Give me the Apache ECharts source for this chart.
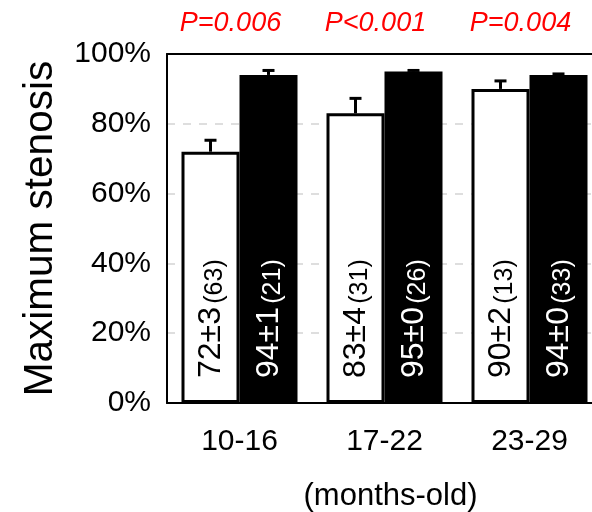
<!DOCTYPE html>
<html>
<head>
<meta charset="utf-8">
<script src="https://cdn.jsdelivr.net/npm/echarts@6/dist/echarts.min.js"></script>
<style>
  html, body { margin: 0; padding: 0; background: #fff; }
  #chart { width: 592px; height: 512px; }
</style>
</head>
<body>
<div id="chart"></div>
<script>
// Age groups (months-old) and stenosis per group
const ageGroups = ['10-16', '17-22', '23-29'];
const pValues = ['P=0.006', 'P<0.001', 'P=0.004'];

const whiteMean = [72, 83, 90];
const whiteErr = [3, 4, 2];
const whiteN = [63, 31, 13];

const blackMean = [94, 95, 94];
const blackErr = [1, 0, 0];
const blackN = [21, 26, 33];

const yTicks = [0, 20, 40, 60, 80, 100];

const FONT = 'Liberation Sans, Arial, sans-serif';
const BAR_W = 58;

function labelFor(mean, err, n) {
  return '{a|' + mean + '±' + err + '} {b|(' + n + ')}';
}

function errorBars(means, errs, offset) {
  return {
    type: 'custom',
    xAxisIndex: 0,
    yAxisIndex: 0,
    z: 5,
    data: means.map((m, i) => [i, m, errs[i]]),
    renderItem: function (params, api) {
      const i = api.value(0), v = api.value(1), e = api.value(2);
      const base = api.coord([i, v]);
      const top = api.coord([i, v + e]);
      const x = base[0] + offset;
      return {
        type: 'group',
        children: [
          { type: 'line', shape: { x1: x, y1: base[1], x2: x, y2: top[1] - 1 },
            style: { stroke: '#000', lineWidth: 3 } },
          { type: 'line', shape: { x1: x - 6, y1: top[1] - 1, x2: x + 6, y2: top[1] - 1 },
            style: { stroke: '#000', lineWidth: 3 } }
        ]
      };
    }
  };
}

function barLabel(color, means, errs, ns) {
  return {
    show: true,
    position: 'insideBottom',
    rotate: 90,
    align: 'left',
    verticalAlign: 'middle',
    distance: 25,
    formatter: p => labelFor(means[p.dataIndex], errs[p.dataIndex], ns[p.dataIndex]),
    rich: {
      a: { fontSize: 32, color: color, fontFamily: FONT, verticalAlign: 'bottom', lineHeight: 34 },
      b: { fontSize: 25, color: color, fontFamily: FONT, verticalAlign: 'bottom', lineHeight: 30 }
    }
  };
}

const chart = echarts.init(document.getElementById('chart'), null, { renderer: 'canvas' });

chart.setOption({
  animation: false,
  backgroundColor: '#fff',
  grid: {
    left: 167, top: 54, width: 435, height: 349,
    outerBoundsMode: 'none',
    containLabel: false,
    show: false
  },
  xAxis: [
    {
      type: 'category',
      data: ageGroups,
      position: 'bottom',
      z: 1,
      axisLine: { show: true, lineStyle: { color: '#000', width: 2 } },
      axisTick: { show: false },
      axisLabel: { color: '#000', fontSize: 30, fontFamily: FONT, margin: 24 },
      name: '(months-old)',
      nameLocation: 'middle',
      nameGap: 78,
      nameTextStyle: { color: '#000', fontSize: 31, fontFamily: FONT, padding: [0, 0, 0, 12] }
    },
    {
      type: 'category',
      data: pValues,
      position: 'top',
      gridIndex: 0,
      z: 1,
      axisLine: { show: true, lineStyle: { color: '#000', width: 2 } },
      axisTick: { show: false },
      splitLine: { show: false },
      axisLabel: {
        color: '#ff0000', fontSize: 27, fontStyle: 'italic', fontFamily: FONT,
        margin: 17, padding: [0, 18, 0, 0]
      }
    }
  ],
  yAxis: {
    type: 'value',
    min: yTicks[0],
    max: yTicks[yTicks.length - 1],
    interval: 20,
    z: 0,
    axisLine: { show: true, lineStyle: { color: '#000', width: 2 } },
    axisTick: { show: false },
    axisLabel: { color: '#000', fontSize: 30, fontFamily: FONT, margin: 16, formatter: '{value}%' },
    splitLine: { show: true, lineStyle: { color: '#d4d4d4', type: [8, 8], width: 1.5 } },
    name: 'Maximum stenosis',
    nameLocation: 'middle',
    nameGap: 106,
    nameTextStyle: { color: '#000', fontSize: 40.5, fontFamily: FONT }
  },
  series: [
    {
      type: 'bar',
      data: whiteMean,
      barWidth: BAR_W,
      barGap: '0%',
      itemStyle: { color: '#fff', borderColor: '#000', borderWidth: 3 },
      label: barLabel('#000', whiteMean, whiteErr, whiteN),
      z: 3
    },
    {
      type: 'bar',
      data: blackMean,
      barWidth: BAR_W,
      barGap: '0%',
      itemStyle: { color: '#000', borderColor: '#000', borderWidth: 3 },
      label: barLabel('#fff', blackMean, blackErr, blackN),
      z: 3
    },
    errorBars(whiteMean, whiteErr, -BAR_W / 2),
    errorBars(blackMean, blackErr, BAR_W / 2)
  ]
});
</script>
</body>
</html>
